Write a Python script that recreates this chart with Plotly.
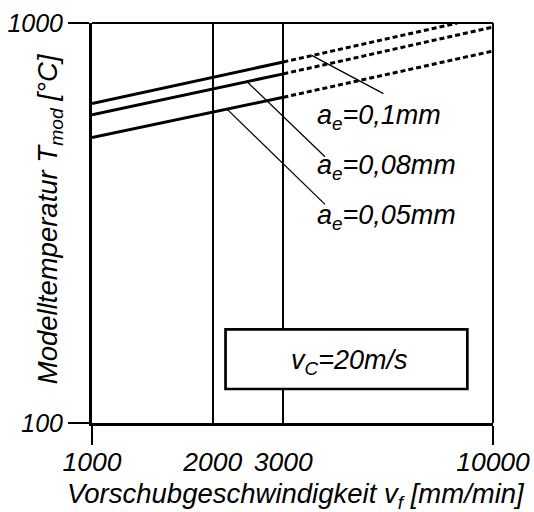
import plotly.graph_objects as go

# Feed rate [mm/min] and model temperature [°C] for three radial depths of cut
vf_meas = [1000, 3000]
t_meas_010 = [629, 799]
t_meas_008 = [590, 746]
t_meas_005 = [517, 652]

# Extrapolated part beyond 3000 mm/min
vf_extr_010 = [3000, 8150]
t_extr_010 = [799, 1000]
vf_extr = [3000, 10000]
t_extr_008 = [746, 977]
t_extr_005 = [652, 851]

# Leader lines from each curve to its label
leader_010_vf = [3530, 5330]
leader_010_t = [830, 666]
leader_008_vf = [2436, 3811]
leader_008_t = [713, 463]
leader_005_vf = [2171, 3811]
leader_005_t = [609, 352]

x_tickvals = [1000, 2000, 3000, 10000]
x_ticktext = ["1000", "2000", "3000", "10000"]
x_tickmarks = [1000, 10000]
y_tickvals = [100, 1000]
y_ticktext = ["100", "1000"]

ae_labels = ["a<sub>e</sub>=0,1mm", "a<sub>e</sub>=0,08mm", "a<sub>e</sub>=0,05mm"]
vc_label = "v<sub>C</sub>=20m/s"

FONT = "Liberation Sans, Arial, sans-serif"

fig = go.Figure()

for t in (t_meas_010, t_meas_008, t_meas_005):
    fig.add_trace(go.Scatter(x=vf_meas, y=t, mode="lines",
                             line=dict(color="black", width=3), hoverinfo="skip"))

for vf, t in ((vf_extr_010, t_extr_010), (vf_extr, t_extr_008), (vf_extr, t_extr_005)):
    fig.add_trace(go.Scatter(x=vf, y=t, mode="lines",
                             line=dict(color="black", width=3, dash="5px,3px"),
                             hoverinfo="skip"))

for vf, t in ((leader_010_vf, leader_010_t), (leader_008_vf, leader_008_t),
              (leader_005_vf, leader_005_t)):
    fig.add_trace(go.Scatter(x=vf, y=t, mode="lines",
                             line=dict(color="black", width=1.3), hoverinfo="skip"))

# Top and right frame
fig.add_shape(type="line", xref="paper", yref="paper", x0=0, x1=1, y0=1, y1=1,
              line=dict(color="black", width=2))
fig.add_shape(type="line", xref="paper", yref="paper", x0=1, x1=1, y0=0, y1=1,
              line=dict(color="black", width=2))

# Cutting speed box
fig.add_shape(type="rect", xref="paper", yref="paper", x0=0.333, x1=0.936,
              y0=0.085, y1=0.234, fillcolor="white",
              line=dict(color="black", width=2.7), layer="above")

txt_font = dict(family=FONT, size=27, color="black", style="italic")
label_y = [0.764, 0.6395, 0.5146]
for text, yy in zip(ae_labels, label_y):
    fig.add_annotation(text=text, xref="paper", yref="paper", x=0.556, y=yy,
                       xanchor="left", yanchor="middle", showarrow=False,
                       font=txt_font)

fig.add_annotation(text=vc_label, xref="paper", yref="paper", x=0.641, y=0.153,
                   xanchor="center", yanchor="middle", showarrow=False,
                   font=txt_font)

# Axis titles
fig.add_annotation(text="Vorschubgeschwindigkeit v<sub>f</sub> [mm/min]",
                   xref="paper", yref="paper", x=0.509, y=-0.18,
                   xanchor="center", yanchor="middle", showarrow=False,
                   font=dict(family=FONT, size=27.5, color="black", style="italic"))
fig.add_annotation(text="Modelltemperatur T<sub>mod</sub> [°C]",
                   xref="paper", yref="paper", x=-0.107, y=0.5096, textangle=-90,
                   xanchor="center", yanchor="middle", showarrow=False,
                   font=dict(family=FONT, size=27.5, color="black", style="italic"))

fig.update_xaxes(type="log", range=[3, 4], tickmode="array",
                 tickvals=x_tickvals, ticktext=x_ticktext, ticks="",
                 ticklabelstandoff=13,
                 tickfont=dict(family=FONT, size=26.5, color="black", style="italic"),
                 showgrid=True, gridcolor="black", gridwidth=1.6,
                 showline=True, linecolor="black", linewidth=3,
                 minor=dict(tickmode="array", tickvals=x_tickmarks, ticks="outside",
                            ticklen=19, tickwidth=1.5, tickcolor="black",
                            showgrid=False),
                 zeroline=False, automargin=False)
fig.update_yaxes(type="log", range=[2, 3], tickmode="array",
                 tickvals=y_tickvals, ticktext=y_ticktext, ticks="outside",
                 ticklen=21, tickwidth=1.5, tickcolor="black",
                 tickfont=dict(family=FONT, size=25, color="black", style="italic"),
                 showgrid=False, showline=True, linecolor="black", linewidth=3,
                 zeroline=False, automargin=False)

fig.update_layout(width=534, height=512, showlegend=False,
                  margin=dict(l=92, r=41, t=23, b=89),
                  paper_bgcolor="white", plot_bgcolor="white")

fig.write_html("out.html")
